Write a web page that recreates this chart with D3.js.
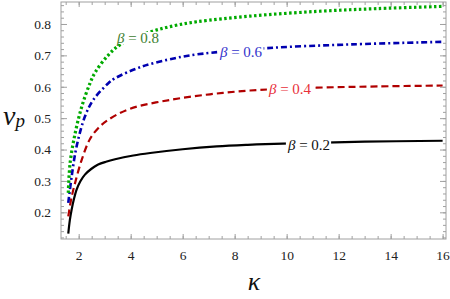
<!DOCTYPE html>
<html>
<head>
<meta charset="utf-8">
<script src="https://cdn.jsdelivr.net/npm/d3@7"></script>
<style>
  body { margin: 0; background: #fff; }
  svg { display: block; }
  .serif { font-family: "Liberation Serif", "DejaVu Serif", "Times New Roman", Times, serif; }
</style>
</head>
<body>
<div id="chart"></div>
<script>
// values, kappa vs v_p for each beta
var beta02K = [1.60, 1.66, 1.73, 1.82, 1.92, 2.06, 2.24, 2.48, 2.75, 3.05, 3.40, 4.10, 4.75, 6.0, 7.31, 8.5, 9.86, 13.0, 16.0];
var beta02V = [0.132, 0.175, 0.209, 0.243, 0.272, 0.298, 0.320, 0.338, 0.352, 0.361, 0.369, 0.381, 0.389, 0.401, 0.410, 0.415, 0.419, 0.425, 0.428];

var beta04K = [1.60, 1.72, 1.86, 2.12, 2.43, 2.75, 3.14, 3.98, 5.51, 7.05, 8.59, 11.15, 13.5, 16.0];
var beta04V = [0.187, 0.245, 0.293, 0.368, 0.433, 0.468, 0.495, 0.530, 0.558, 0.576, 0.588, 0.597, 0.601, 0.604];

var beta06K = [1.60, 1.73, 1.92, 2.24, 2.56, 3.14, 3.40, 4.42, 5.70, 6.54, 9.23, 12.5, 16.0];
var beta06V = [0.230, 0.314, 0.410, 0.505, 0.558, 0.611, 0.627, 0.664, 0.691, 0.703, 0.723, 0.735, 0.743];

var beta08K = [1.60, 1.67, 1.86, 2.12, 2.43, 2.63, 3.14, 3.65, 4.81, 5.70, 6.54, 8.59, 11.15, 13.5, 16.0];
var beta08V = [0.262, 0.357, 0.450, 0.537, 0.610, 0.645, 0.701, 0.737, 0.776, 0.795, 0.807, 0.825, 0.840, 0.849, 0.856];

var betaNames = ["0.2", "0.4", "0.6", "0.8"];
var xTicks = [2, 4, 6, 8, 10, 12, 14, 16];
var yTicks = [0.2, 0.3, 0.4, 0.5, 0.6, 0.7, 0.8];

var width = 450, height = 299;
var svg = d3.select('#chart').append('svg')
  .attr('width', width)
  .attr('height', height);

var x = d3.scaleLinear().domain([1.32, 16.13]).range([61, 446]);
var y = d3.scaleLinear().domain([0.115, 0.87]).range([239, 2]);

var frameColor = '#a0a0a0';

var xMinor = d3.range(1.5, 16.1, 0.5);
var yMinor = d3.range(0.12, 0.87, 0.02);

function styleAxis(g, labels) {
  g.attr('font-family', null);
  g.select('.domain').remove();
  g.selectAll('.tick line').attr('stroke', frameColor);
  g.selectAll('.tick text')
    .attr('class', 'serif')
    .attr('fill', labels ? '#222' : 'none')
    .style('font-size', '13.5px');
}

// minor ticks
svg.append('g').attr('transform', 'translate(0,239)')
  .call(d3.axisBottom(x).tickValues(xMinor).tickSize(-3).tickFormat(''))
  .call(styleAxis, false);
svg.append('g').attr('transform', 'translate(0,2)')
  .call(d3.axisTop(x).tickValues(xMinor).tickSize(-3).tickFormat(''))
  .call(styleAxis, false);
svg.append('g').attr('transform', 'translate(61,0)')
  .call(d3.axisLeft(y).tickValues(yMinor).tickSize(-3).tickFormat(''))
  .call(styleAxis, false);
svg.append('g').attr('transform', 'translate(446,0)')
  .call(d3.axisRight(y).tickValues(yMinor).tickSize(-3).tickFormat(''))
  .call(styleAxis, false);

// major ticks
svg.append('g').attr('transform', 'translate(0,239)')
  .call(d3.axisBottom(x).tickValues(xTicks).tickSizeInner(-5).tickSizeOuter(0).tickPadding(11).tickFormat(d3.format('d')))
  .call(styleAxis, true);
svg.append('g').attr('transform', 'translate(0,2)')
  .call(d3.axisTop(x).tickValues(xTicks).tickSize(-5).tickFormat(''))
  .call(styleAxis, false);
svg.append('g').attr('transform', 'translate(61,0)')
  .call(d3.axisLeft(y).tickValues(yTicks).tickSizeInner(-6).tickSizeOuter(0).tickPadding(10).tickFormat(d3.format('.1f')))
  .call(styleAxis, true);
svg.append('g').attr('transform', 'translate(446,0)')
  .call(d3.axisRight(y).tickValues(yTicks).tickSize(-6).tickFormat(''))
  .call(styleAxis, false);

// frame
svg.append('rect')
  .attr('x', 61).attr('y', 2)
  .attr('width', 446 - 61).attr('height', 239 - 2)
  .attr('fill', 'none')
  .attr('stroke', frameColor)
  .attr('stroke-width', 1);

var series = [
  {k: beta02K, v: beta02V, name: betaNames[0], line: '#000000', text: '#111111', dash: null, w: 2.2, lx: 309, ly: 145},
  {k: beta04K, v: beta04V, name: betaNames[1], line: '#b00000', text: '#e8303a', dash: '7,4', w: 2.2, lx: 290, ly: 89},
  {k: beta06K, v: beta06V, name: betaNames[2], line: '#0000b0', text: '#3434cc', dash: '6,3,2,3', w: 2.6, lx: 241, ly: 52},
  {k: beta08K, v: beta08V, name: betaNames[3], line: '#00aa00', text: '#3d8030', dash: '2.5,2.5', w: 3.2, lx: 138, ly: 38}
];

var line = d3.line()
  .x(function(d) { return x(d[0]); })
  .y(function(d) { return y(d[1]); })
  .curve(d3.curveCatmullRom.alpha(0.5));

series.forEach(function(s) {
  var pts = s.k.map(function(k, i) { return [k, s.v[i]]; });
  svg.append('path')
    .datum(pts)
    .attr('d', line)
    .attr('fill', 'none')
    .attr('stroke', s.line)
    .attr('stroke-width', s.w)
    .attr('stroke-dasharray', s.dash);
});

// curve labels with white backing
series.forEach(function(s) {
  var t = svg.append('text')
    .attr('class', 'serif')
    .attr('x', s.lx).attr('y', s.ly)
    .attr('dy', '0.35em')
    .attr('text-anchor', 'middle')
    .attr('fill', s.text)
    .style('font-size', '15px');
  t.append('tspan').style('font-style', 'italic').text('β');
  t.append('tspan').text(' = ' + s.name);
  var bb = t.node().getBBox();
  svg.insert('rect', function() { return t.node(); })
    .attr('x', bb.x - 1).attr('y', s.ly - 6)
    .attr('width', bb.width + 2).attr('height', 12)
    .attr('fill', '#fff');
});

// axis titles
var vp = svg.append('text')
  .attr('class', 'serif')
  .attr('x', 3).attr('y', 125)
  .attr('fill', '#111')
  .style('font-style', 'italic');
vp.append('tspan').style('font-size', '28px').text('v');
vp.append('tspan').style('font-size', '19px').attr('dy', 2).text('p');

svg.append('text')
  .attr('class', 'serif')
  .attr('x', 254).attr('y', 290)
  .attr('text-anchor', 'middle')
  .attr('fill', '#111')
  .style('font-style', 'italic')
  .style('font-size', '26px')
  .text('κ');
</script>
</body>
</html>
